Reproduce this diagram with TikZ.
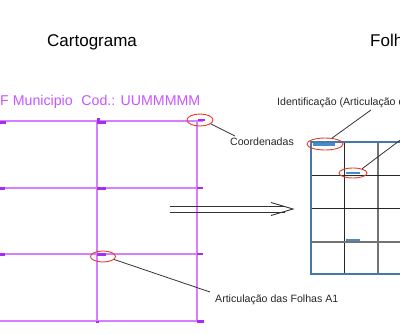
\documentclass[tikz,border=0pt]{standalone}
\usepackage{fontspec}
\setmainfont{Liberation Sans}
\usetikzlibrary{shapes.geometric}
\definecolor{pline}{RGB}{214,128,255}
\definecolor{ptext}{RGB}{200,85,255}
\definecolor{pmark}{RGB}{165,45,245}
\definecolor{callred}{RGB}{228,60,40}
\definecolor{gblue}{RGB}{70,120,170}
\definecolor{mblue}{RGB}{70,140,205}
\begin{document}
\begin{tikzpicture}[x=1pt,y=-1pt,
  gridp/.style={draw=pline,line width=1.4pt},
  markp/.style={draw=pmark,line width=2.2pt},
  markb/.style={draw=mblue,line width=2.2pt},
  gridk/.style={draw=black!85,line width=1pt},
  gridg/.style={draw=black!55,line width=1.5pt},
  callout/.style={ellipse,draw=callred,line width=0.9pt,inner sep=0pt},
  lead/.style={draw=black!80,line width=0.8pt},
  title/.style={anchor=base west,inner sep=0pt,font=\fontsize{17}{20}\selectfont},
  ptxt/.style={inner sep=0pt,font=\fontsize{14.2}{16}\selectfont,text=ptext},
  small/.style={anchor=base west,inner sep=0pt,font=\fontsize{10.6}{12}\selectfont,text=black!85}]
\useasboundingbox (0,0) rectangle (400,335);
\clip (0,0) rectangle (400,335);
% titles
\node[title] (tcart) at (47,46) {Cartograma};
\node[title] (tfolh) at (370,46) {Folhas};
\node[ptxt,anchor=base east] (tuf) at (73,105) {UF Municipio};
\node[ptxt,anchor=base east] (tcod) at (200.5,105) {Cod.: UUMMMMM};
% purple grid
\foreach \y in {121,188,254,321} \draw[gridp] (-2,\y) -- (203,\y);
\foreach \x in {97,197} \draw[gridp] (\x,120) -- (\x,322);
% purple markers
\draw[markp] (0,122.5) -- (6,122.5);
\draw[markp] (97,119.5) -- (99.5,119.5);
\draw[markp] (97,122.5) -- (106,122.5);
\draw[markp] (198,120) -- (205,120);
\draw[markp] (0,188.5) -- (5,188.5);
\draw[markp] (97,188.5) -- (106,188.5);
\draw[draw=pmark,line width=1.2pt] (197,188) -- (203,188);
\draw[markp] (0,254.5) -- (5,254.5);
\draw[markp] (97,254.5) -- (106,254.5);
\draw[draw=pmark,line width=1.2pt] (197,254) -- (203,254);
\draw[draw=pmark,line width=1.6pt] (96,322) -- (99,322);
\draw[markp] (197,321.5) -- (204,321.5);
% right grid
\draw[gridk] (344,142) -- (344,274);
\draw[gridg] (378,142) -- (378,274);
\draw[gridk] (311,175) -- (402,175);
\draw[gridk] (311,208) -- (402,208);
\draw[gridg] (311,242) -- (402,242);
\draw[draw=gblue,line width=1.3pt] (311,142) rectangle (412,274);
\draw[markb] (313,144.5) -- (335,144.5);
\draw[markb] (346,173) -- (360,173);
\draw[markb] (346,240) -- (360,240);
% callouts
\node[callout,minimum width=26pt,minimum height=12pt] (c1) at (200,120) {};
\node[callout,minimum width=25pt,minimum height=11pt] (c2) at (103,256.5) {};
\node[callout,minimum width=36pt,minimum height=12pt] (c3) at (325,144) {};
\node[callout,minimum width=28pt,minimum height=10pt] (c4) at (353,173) {};
% labels
\node[small] (lcoord) at (230,145) {Coordenadas};
\node[small] (lartic) at (215,302.5) {Articulação das Folhas A1};
\node[small] (lident) at (277,105) {Identificação (Articulação das Folhas)};
\coordinate (kc) at (235,136);
\coordinate (ka) at (210,292);
\coordinate (ki) at (371,110);
\coordinate (kr) at (403,138);
\draw[lead] (c1.-20) -- (kc);
\draw[lead] (c2.-15) -- (ka);
\draw[lead] (c3.40) -- (ki);
\draw[lead] (c4.25) -- (kr);
% arrow
\coordinate (aS) at (170,209);
\coordinate (aE) at (293,209);
\draw[black!80,line width=0.9pt] ([yshift=-3pt]aS) -- ([xshift=-8pt,yshift=-3pt]aE);
\draw[black!80,line width=0.9pt] ([yshift=3pt]aS) -- ([xshift=-8pt,yshift=3pt]aE);
\draw[black!80,line width=0.9pt] ([xshift=-22pt,yshift=-6.5pt]aE) -- (aE) -- ([xshift=-22pt,yshift=6.5pt]aE);
\end{tikzpicture}
\end{document}
